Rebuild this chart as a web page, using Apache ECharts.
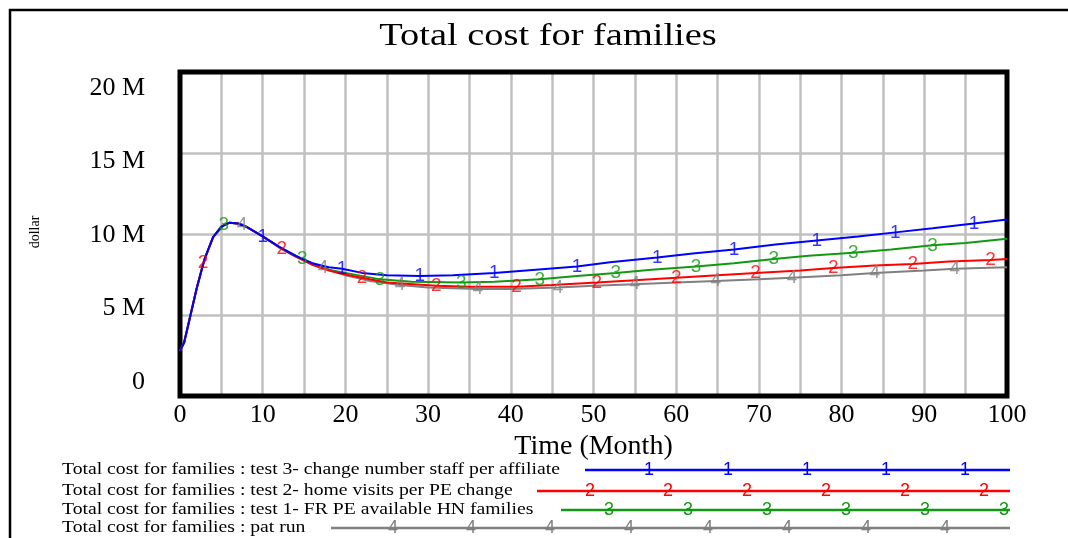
<!DOCTYPE html>
<html><head><meta charset="utf-8">
<script src="https://cdn.jsdelivr.net/npm/echarts@6/dist/echarts.min.js"></script>
<style>html,body{margin:0;padding:0;background:#fff}#c{width:1068px;height:538px}</style>
</head><body><div id="c"></div>
<script>
// ---- data (values in millions of dollars, time in months) ----
const title = 'Total cost for families';
const xTitle = 'Time (Month)';
const yTitle = 'dollar';
const seriesNames = [
  'Total cost for families : test 3- change number staff per affiliate',
  'Total cost for families : test 2- home visits per PE change',
  'Total cost for families : test 1- FR PE available HN families',
  'Total cost for families : pat run'
];
const seriesTags = ['1', '2', '3', '4'];
const seriesColors = ['#0000ff', '#ff0000', '#119911', '#808080'];

const test3Data = [[0,2.8],[0.5,3.3],[1,4.4],[2,6.6],[3,8.5],[4,9.8],[5,10.45],[6,10.7],[7,10.65],[8,10.45],[10,9.85],[12,9.2],[14,8.65],[16,8.2],[18,7.95],[19.6,7.85],[22,7.6],[25,7.45],[29,7.4],[33,7.45],[38,7.6],[43,7.8],[48,8.0],[52,8.25],[57.7,8.55],[62,8.8],[67,9.05],[72,9.35],[77,9.6],[82,9.85],[86.5,10.1],[91,10.35],[96,10.65],[100,10.9]];
const test3Marks = [10,19.6,29,38,48,57.7,67,77,86.5,96];

const test2Data = [[0,2.8],[0.5,3.3],[1,4.4],[2,6.6],[2.8,8.2],[4,9.8],[5,10.45],[6,10.7],[7,10.65],[8,10.45],[10,9.85],[12.3,9.1],[14,8.6],[16,8.1],[18,7.75],[20,7.5],[22,7.3],[25,7.0],[31,6.8],[35,6.75],[40.7,6.75],[45,6.85],[50.4,7.0],[55,7.15],[60,7.3],[65,7.45],[69.6,7.6],[75,7.75],[79,7.9],[84,8.05],[88.6,8.15],[93,8.3],[98,8.4],[100,8.45]];
const test2Marks = [2.8,12.3,22,31,40.7,50.4,60,69.6,79,88.6,98];

const test1Data = [[0,2.8],[0.5,3.3],[1,4.4],[2,6.6],[3,8.5],[4,9.8],[5.3,10.55],[6,10.7],[7,10.65],[8,10.45],[10,9.85],[12,9.2],[14.8,8.45],[16,8.15],[18,7.8],[20,7.6],[24.2,7.2],[28,7.05],[34,7.0],[38,7.05],[43.5,7.2],[48,7.4],[52.7,7.6],[57,7.8],[62.4,8.0],[67,8.2],[71.8,8.45],[76,8.65],[81.4,8.85],[86,9.05],[91,9.3],[95,9.45],[100,9.7]];
const test1Marks = [5.3,14.8,24.2,34,43.5,52.7,62.4,71.8,81.4,91];

const patRunData = [[0,2.8],[0.5,3.3],[1,4.4],[2,6.6],[3,8.5],[4,9.8],[5,10.45],[6,10.7],[7.5,10.6],[10,9.85],[12,9.15],[14,8.6],[17.3,7.9],[20,7.45],[23,7.1],[26.6,6.85],[30,6.7],[36,6.6],[40,6.6],[45.7,6.7],[50,6.8],[55,6.9],[60,7.0],[64.8,7.1],[70,7.2],[74,7.3],[80,7.45],[84,7.6],[90,7.75],[93.7,7.85],[100,7.95]];
const patRunMarks = [7.5,17.3,26.6,36,45.7,55,64.8,74,84,93.7];

const xMin = 0, xMax = 100, xStep = 5, xLabelStep = 10;
const yMin = 0, yMax = 20, yStep = 5;
const yTickLabels = ['0', '5 M', '10 M', '15 M', '20 M'];

// ---- chart ----
const allData = [test3Data, test2Data, test1Data, patRunData];
const allMarks = [test3Marks, test2Marks, test1Marks, patRunMarks];

const serif = 'Liberation Serif';
const lineSeries = allData.map((d, i) => ({
  type: 'line', name: seriesNames[i], data: d, xAxisIndex: 0, yAxisIndex: 0,
  showSymbol: false, symbol: 'none', smooth: false,
  lineStyle: { color: seriesColors[i], width: 2 },
  z: 10 - i, silent: true, animation: false
}));
const markSeries = allData.map((d, i) => ({
  type: 'scatter', data: d.filter(p => allMarks[i].includes(p[0])),
  xAxisIndex: 0, yAxisIndex: 0, symbol: 'circle', symbolSize: 1,
  itemStyle: { color: 'rgba(0,0,0,0)' },
  label: { show: true, position: 'inside', formatter: seriesTags[i], color: seriesColors[i],
           fontFamily: 'Liberation Sans', fontSize: 19 },
  z: 20 - i, silent: true, animation: false
}));

// legend drawn as graphics
const legendRowY = [470, 491, 510, 528];
const legendLineStart = [585, 537, 561, 331];
const legendLineEnd = 1010;
const legendMarkX = [
  [649,728,807,886,965],
  [590,668,747,826,905,984],
  [609,688,767,846,925,1004],
  [393,471,550,629,708,787,866,945]
];
const graphics = [
  { type: 'rect', shape: { x: 10, y: 10, width: 1100, height: 600 },
    style: { fill: 'none', stroke: '#000', lineWidth: 2.5 }, silent: true },
  { type: 'text', x: 548, y: 37, scaleX: 1.2,
    style: { text: title, font: '32px "Liberation Serif"', fill: '#000', align: 'center', verticalAlign: 'middle' } },
  { type: 'text', x: 35, y: 232, rotation: Math.PI / 2,
    style: { text: yTitle, font: '14px "Liberation Serif"', fill: '#000', align: 'center', verticalAlign: 'middle' } }
];
seriesNames.forEach((n, i) => {
  graphics.push({ type: 'text', x: 62, y: legendRowY[i], scaleX: 1.23,
    style: { text: n, font: '16px "Liberation Serif"', fill: '#000', verticalAlign: 'middle' } });
  graphics.push({ type: 'line', shape: { x1: legendLineStart[i], y1: legendRowY[i], x2: legendLineEnd, y2: legendRowY[i] },
    style: { stroke: seriesColors[i], lineWidth: 2.5 } });
  legendMarkX[i].forEach(x => graphics.push({ type: 'text', x: x, y: legendRowY[i],
    style: { text: seriesTags[i], font: '18px "Liberation Sans"', fill: seriesColors[i], align: 'center', verticalAlign: 'middle' } }));
});

const chart = echarts.init(document.getElementById('c'), null, { renderer: 'canvas' });
chart.setOption({
  animation: false,
  backgroundColor: '#fff',
  grid: [
    { left: 180, right: 61, top: 72, height: 324, show: true, borderColor: '#000', borderWidth: 5, backgroundColor: 'transparent', z: 5 },
    { left: 148, right: 61, top: 88, height: 294, show: false }
  ],
  xAxis: [
    { type: 'value', gridIndex: 0, min: xMin, max: xMax, interval: xStep,
      name: xTitle, nameLocation: 'middle', nameGap: 35,
      nameTextStyle: { fontFamily: serif, fontSize: 28, color: '#000' },
      axisLine: { show: false }, axisTick: { show: false },
      axisLabel: { fontFamily: serif, fontSize: 26, color: '#000', margin: 6,
        formatter: v => (v % xLabelStep === 0 ? String(v) : '') },
      splitLine: { show: true, lineStyle: { color: '#c0c0c0', width: 2.5 } } },
    { type: 'value', gridIndex: 1, min: xMin, max: xMax, show: false }
  ],
  yAxis: [
    { type: 'value', gridIndex: 0, min: yMin, max: yMax, interval: yStep,
      axisLine: { show: false }, axisTick: { show: false }, axisLabel: { show: false },
      splitLine: { show: true, lineStyle: { color: '#c0c0c0', width: 2.5 } } },
    { type: 'value', gridIndex: 1, min: yMin, max: yMax, interval: yStep,
      axisLine: { show: false }, axisTick: { show: false }, splitLine: { show: false },
      axisLabel: { fontFamily: serif, fontSize: 26, color: '#000', margin: 3,
        formatter: v => yTickLabels[Math.round((v - yMin) / yStep)] } }
  ],
  series: lineSeries.concat(markSeries),
  graphic: graphics
});
</script>
</body></html>
